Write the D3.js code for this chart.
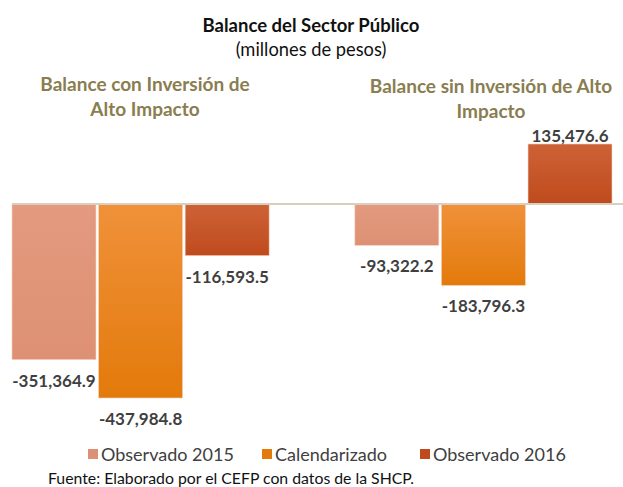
<!DOCTYPE html>
<html>
<head>
<meta charset="utf-8">
<script src="https://cdn.jsdelivr.net/npm/d3@7"></script>
<style>
  body { margin: 0; background: #fff; }
  svg { display: block; font-family: Lato, "Open Sans", sans-serif; }
</style>
</head>
<body>
<svg id="chart" width="623" height="487"></svg>
<script>
const groups = ["Balance con Inversión de Alto Impacto", "Balance sin Inversión de Alto Impacto"];
const series = ["Observado 2015", "Calendarizado", "Observado 2016"];
const observado2015 = [-351364.9, -93322.2];
const calendarizado = [-437984.8, -183796.3];
const observado2016 = [-116593.5, 135476.6];

const values = [observado2015, calendarizado, observado2016];

const colors = {
  "Observado 2015": ["#e39a7e", "#dd9074"],
  "Calendarizado": ["#f0913a", "#e37a0b"],
  "Observado 2016": ["#cd6237", "#bf4b1d"],
};

const svg = d3.select("#chart");

const defs = svg.append("defs");
series.forEach((s, i) => {
  const g = defs.append("linearGradient")
    .attr("id", `grad${i}`)
    .attr("x1", 0).attr("y1", 0).attr("x2", 0).attr("y2", 1);
  g.append("stop").attr("offset", "0%").attr("stop-color", colors[s][0]);
  g.append("stop").attr("offset", "100%").attr("stop-color", colors[s][1]);
});

const x0 = d3.scaleBand()
  .domain(groups)
  .range([12, 612])
  .paddingInner(0.25)
  .paddingOuter(0);

const x1 = d3.scaleBand()
  .domain(series)
  .range([0, x0.bandwidth()])
  .paddingInner(0.03);

const y = d3.scaleLinear()
  .domain([-437984.8, 0])
  .range([398, 204]);

// titles
svg.append("text")
  .attr("x", 311).attr("y", 32)
  .attr("text-anchor", "middle")
  .style("font-size", "18.5px").style("font-weight", "bold")
  .attr("fill", "#111")
  .text("Balance del Sector Público");

svg.append("text")
  .attr("x", 311).attr("y", 56)
  .attr("text-anchor", "middle")
  .style("font-size", "18.3px")
  .attr("fill", "#111")
  .text("(millones de pesos)");

const groupLines = [
  ["Balance con Inversión de", "Alto Impacto"],
  ["Balance sin Inversión de Alto", "Impacto"],
];
const groupCenters = [145, 491];
const groupTop = [91, 93];
groupLines.forEach((lines, i) => {
  const t = svg.append("text")
    .attr("text-anchor", "middle")
    .style("font-size", "19px").style("font-weight", "bold")
    .attr("fill", "#8a7d4f");
  lines.forEach((l, j) => {
    t.append("tspan")
      .attr("x", groupCenters[i])
      .attr("y", groupTop[i] + j * 25)
      .text(l);
  });
});

// bars
const data = [];
groups.forEach((g, gi) => {
  series.forEach((s, si) => {
    data.push({ group: g, series: s, si, value: values[si][gi] });
  });
});

const bar = svg.selectAll(".bar")
  .data(data)
  .enter()
  .append("g")
  .attr("class", "bar");

bar.append("rect")
  .attr("x", d => x0(d.group) + x1(d.series))
  .attr("y", d => y(Math.max(0, d.value)))
  .attr("width", x1.bandwidth())
  .attr("height", d => Math.abs(y(d.value) - y(0)))
  .attr("fill", d => `url(#grad${d.si})`)
  .attr("stroke", "#f6d3bd")
  .attr("stroke-width", 0.6);

// zero line
svg.append("line")
  .attr("x1", 12).attr("x2", 623)
  .attr("y1", y(0)).attr("y2", y(0))
  .attr("stroke", "#d8cfbe")
  .attr("stroke-width", 2);

const fmt = d3.format(",.1f");

bar.append("text")
  .attr("x", d => x0(d.group) + x1(d.series) + x1.bandwidth() / 2)
  .attr("y", d => d.value < 0 ? y(d.value) + 27 : y(d.value) - 2)
  .attr("text-anchor", "middle")
  .style("font-size", "17px").style("font-weight", "bold")
  .attr("fill", "#3f3f3f")
  .text(d => d.value < 0 ? "-" + fmt(-d.value) : fmt(d.value));

// legend
const legendX = [88, 262, 420];
const legend = svg.selectAll(".legend")
  .data(series)
  .enter()
  .append("g")
  .attr("class", "legend")
  .attr("transform", (d, i) => `translate(${legendX[i]},455)`);

legend.append("rect")
  .attr("x", 0).attr("y", -6)
  .attr("width", 10).attr("height", 10)
  .attr("fill", (d, i) => colors[d][1]);

legend.append("text")
  .attr("x", 13).attr("y", 6)
  .style("font-size", "18px")
  .attr("fill", "#404040")
  .text(d => d);

svg.append("text")
  .attr("x", 48).attr("y", 484)
  .style("font-size", "15.8px")
  .attr("fill", "#111")
  .text("Fuente: Elaborado por el CEFP con datos de la SHCP.");
</script>
</body>
</html>
